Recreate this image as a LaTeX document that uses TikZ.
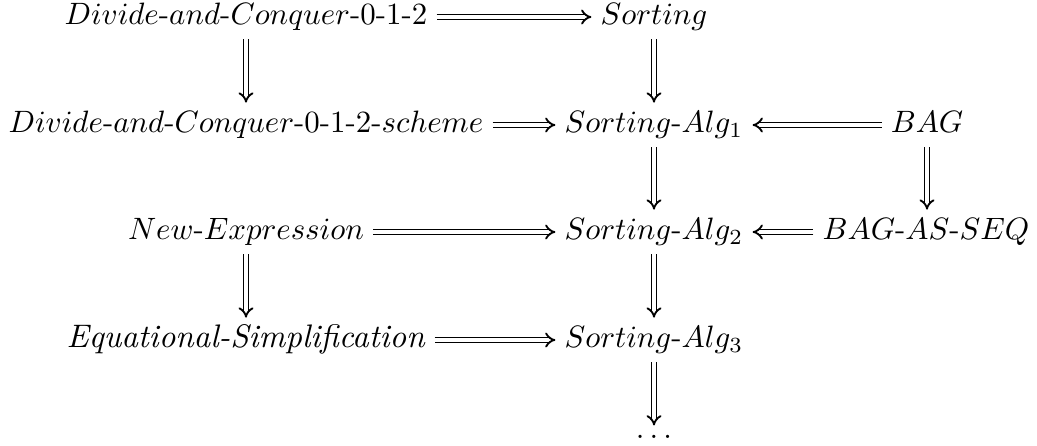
\documentclass[tikz,border=0pt]{standalone}
\usepackage{graphicx}
\usetikzlibrary{arrows.meta}
\begin{document}
\begin{tikzpicture}[x=0.3236pt,y=-0.3236pt,
  obj/.style={inner xsep=2.8pt,inner ysep=2.6pt,text height=6.94pt,text depth=1.94pt},
  dbl/.style={double,line width=0.6pt,double distance=1.0pt,-{Implies}}]
\useasboundingbox (0,0) rectangle (1037,445);
\node[obj] (dc)  at (246,17) {$Divide\mbox{-}and\mbox{-}Conquer\mbox{-}0\mbox{-}1\mbox{-}2$};
\node[obj] (s)   at (654,17) {$Sorting$};
\node[obj] (dcs) at (246,125) {$Divide\mbox{-}and\mbox{-}Conquer\mbox{-}0\mbox{-}1\mbox{-}2\mbox{-}scheme$};
\node[obj] (s1)  at (654,125) {$Sorting\mbox{-}Alg_1$};
\node[obj] (bag) at (927,125) {$BAG$};
\node[obj] (ne)  at (246,232) {$New\mbox{-}Expression$};
\node[obj] (s2)  at (654,232) {$Sorting\mbox{-}Alg_2$};
\node[obj] (bas) at (926,232) {$BAG\mbox{-}AS\mbox{-}SEQ$};
\node[obj] (es)  at (246,340) {\scalebox{1.055}{\textit{Equational-Simplification}}};
\node[obj] (s3)  at (654,340) {$Sorting\mbox{-}Alg_3$};
\node[inner sep=0pt] (dots) at (654,437) {$\ldots$};
\draw[dbl] (dc) -- (s);
\draw[dbl] (dc) -- (dc.south |- dcs.north);
\draw[dbl] (s) -- (s.south |- s1.north);
\draw[dbl] (dcs) -- (s1);
\draw[dbl] (bag) -- (s1);
\draw[dbl] (s1) -- (s1.south |- s2.north);
\draw[dbl] (bag) -- (bag.south |- bas.north);
\draw[dbl] (ne) -- (s2);
\draw[dbl] (bas) -- (s2);
\draw[dbl] (ne) -- (ne.south |- es.north);
\draw[dbl] (s2) -- (s2.south |- s3.north);
\draw[dbl] (es) -- (s3);
\draw[dbl,shorten >=3pt] (s3) -- (s3.south |- dots.north);
\end{tikzpicture}
\end{document}
